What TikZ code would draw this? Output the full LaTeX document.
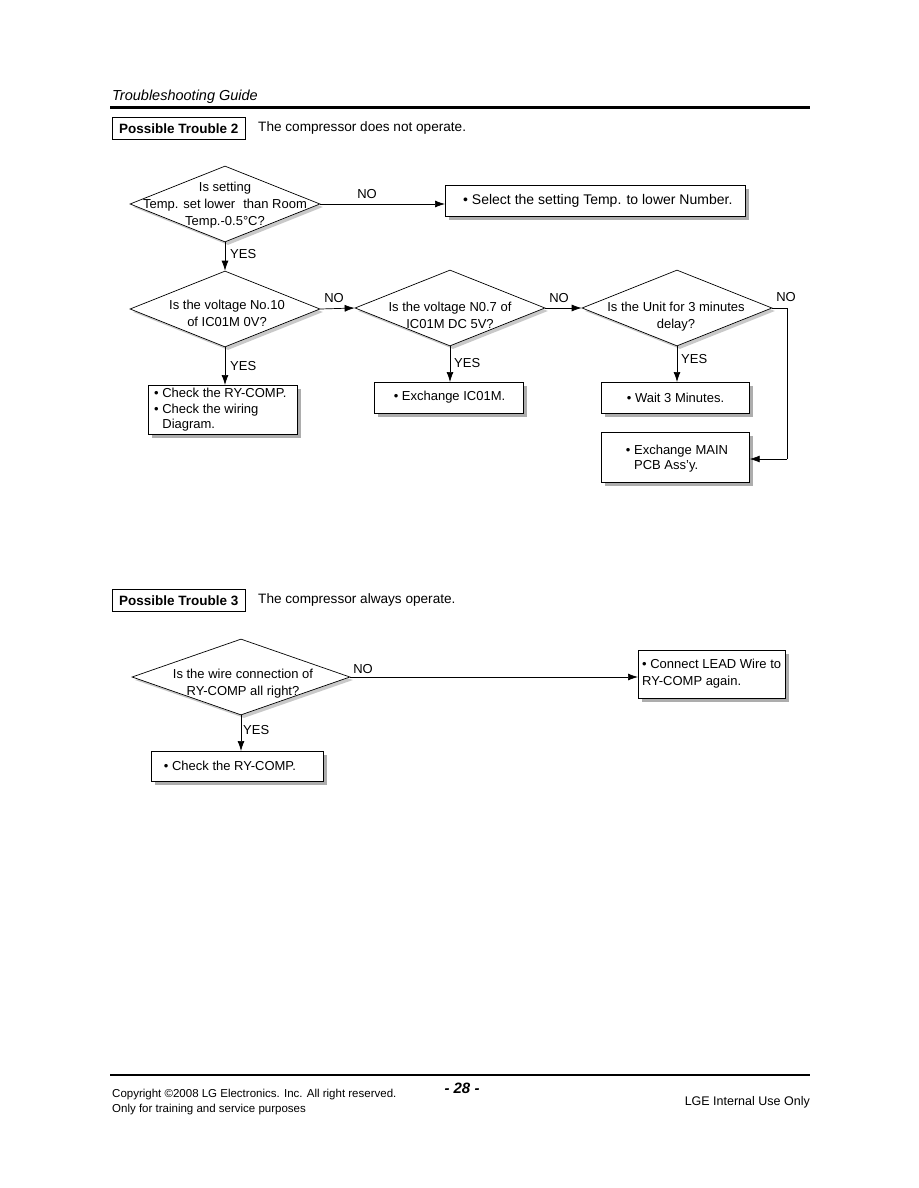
\documentclass[tikz,border=0pt]{standalone}
\usepackage{fontspec}
\setmainfont{Liberation Sans}
\usetikzlibrary{shapes.geometric,shadows,arrows.meta}
\begin{document}
\begin{tikzpicture}[x=1pt,y=-1pt,
  every node/.style={inner sep=0pt, font=\fontsize{13}{16.5}\selectfont},
  dia/.style={diamond, draw, line width=0.7pt, fill=white,
    drop shadow={shadow xshift=3pt, shadow yshift=-3pt, fill=black!30, opacity=0.7}},
  box/.style={rectangle, draw, line width=0.7pt, fill=white,
    drop shadow={shadow xshift=4pt, shadow yshift=-4pt, fill=black!40, opacity=0.8}},
  dtext/.style={align=center, font=\fontsize{13}{17}\selectfont},
  btext/.style={align=left, font=\fontsize{13}{15.5}\selectfont},
  arr/.style={line width=0.7pt, -{Latex[length=10pt,width=7pt]}},
  lbl/.style={font=\fontsize{13}{15}\selectfont}]
\useasboundingbox (0,0) rectangle (918,1188);

% header
\node[anchor=base west, font=\itshape\fontsize{14.5}{16}\selectfont] (hdr) at (112,101) {Troubleshooting Guide};
\coordinate (hl) at (110,108);
\coordinate (hr) at (810,108);
\draw[line width=3pt] (hl) -- (hr);

% trouble 2 title
\node[draw, line width=0.7pt, anchor=north west, minimum width=133pt, minimum height=22pt,
  font=\bfseries\fontsize{13.5}{16}\selectfont] (t2) at (112,117) {Possible Trouble 2};
\node[anchor=west, font=\fontsize{13.6}{16}\selectfont] (t2d) at (258,128) {The compressor does not operate.};

% diamonds
\node[dia, minimum width=190pt, minimum height=76pt] (d1) at (225,204) {};
\node[dtext] (d1t) at (225,205) {Is setting\\Temp. set lower\hspace{8pt}than Room\\Temp.-0.5\textdegree C?};

\node[dia, minimum width=190pt, minimum height=76pt] (d2) at (225,309) {};
\node[dtext] (d2t) at (227,313) {Is the voltage No.10\\of IC01M 0V?};

\node[dia, minimum width=190pt, minimum height=76pt] (d3) at (450,308) {};
\node[dtext] (d3t) at (450,315) {Is the voltage N0.7 of\\IC01M DC 5V?};

\node[dia, minimum width=190pt, minimum height=76pt] (d4) at (677,308) {};
\node[dtext] (d4t) at (676,317) {Is the Unit for 3 minutes\\delay?};

% boxes
\node[box, anchor=north west, minimum width=300pt, minimum height=31pt] (b1) at (445,185) {};
\node[btext, anchor=west, font=\fontsize{14}{16}\selectfont] (b1t) at (463,201) {\textbullet\ Select the setting Temp. to lower Number.};

\node[box, anchor=north west, minimum width=149pt, minimum height=49pt] (b2) at (148,385) {};
\node[btext, anchor=north west] (b2t) at (154,388) {\textbullet\ Check the RY-COMP.\\\textbullet\ Check the wiring\\\phantom{\textbullet\ }Diagram.};

\node[box, anchor=north west, minimum width=149pt, minimum height=31pt] (b3) at (374,382) {};
\node[btext] (b3t) at (449.5,397.5) {\textbullet\ Exchange IC01M.};

\node[box, anchor=north west, minimum width=148pt, minimum height=31pt] (b4) at (601,382) {};
\node[btext] (b4t) at (675.5,398) {\textbullet\ Wait 3 Minutes.};

\node[box, anchor=north west, minimum width=148pt, minimum height=50pt] (b5) at (601,432) {};
\node[btext] (b5t) at (677,458.5) {\textbullet\ Exchange MAIN\\\phantom{\textbullet\ }PCB Ass'y.};

% connectors trouble 2
\draw[arr] (d1.east) -- (b1.west |- d1.east);
\node[lbl] (n1) at (367,194) {NO};
\draw[arr] (d1.south) -- (d2.north);
\node[lbl, anchor=west] (y1) at (230,254) {YES};

\draw[arr] (d2.east) -- (d3.west);
\node[lbl] (n2) at (334,298) {NO};
\draw[arr] (d3.east) -- (d4.west);
\node[lbl] (n3) at (559,298) {NO};

\coordinate (c4a) at (787,308);
\coordinate (c4b) at (787,459);
\draw[line width=0.7pt] (d4.east) -- (c4a) -- (c4b);
\draw[arr] (c4b) -- (b5.east |- c4b);
\node[lbl] (n4) at (786,297) {NO};

\draw[arr] (d2.south) -- (b2.north -| d2.south);
\node[lbl, anchor=west] (y2) at (230,366) {YES};
\draw[arr] (d3.south) -- (b3.north -| d3.south);
\node[lbl, anchor=west] (y3) at (454,363) {YES};
\draw[arr] (d4.south) -- (b4.north -| d4.south);
\node[lbl, anchor=west] (y4) at (681,359) {YES};

% trouble 3 title
\node[draw, line width=0.7pt, anchor=north west, minimum width=133pt, minimum height=22pt,
  font=\bfseries\fontsize{13.5}{16}\selectfont] (t3) at (112,589) {Possible Trouble 3};
\node[anchor=west, font=\fontsize{13.6}{16}\selectfont] (t3d) at (258,600) {The compressor always operate.};

\node[dia, minimum width=218pt, minimum height=76pt] (d6) at (241,677) {};
\node[dtext] (d6t) at (243,684) {Is the wire connection of\\RY-COMP all right?};

\node[box, anchor=north west, minimum width=147pt, minimum height=48pt] (b6) at (638,650) {};
\node[btext, anchor=west, font=\fontsize{13}{17}\selectfont] (b6t) at (642,674) {\textbullet\ Connect LEAD Wire to\\RY-COMP again.};

\node[box, anchor=north west, minimum width=172pt, minimum height=30pt] (b7) at (151,751) {};
\node[btext] (b7t) at (230,766) {\textbullet\ Check the RY-COMP.};

\draw[arr] (d6.east) -- (b6.west |- d6.east);
\node[lbl] (n6) at (363,669) {NO};
\draw[arr] (d6.south) -- (b7.north -| d6.south);
\node[lbl, anchor=west] (y6) at (243,730) {YES};

% footer
\coordinate (fl) at (110,1075);
\coordinate (fr) at (810,1075);
\draw[line width=1.6pt] (fl) -- (fr);
\node[anchor=base west, align=left, font=\fontsize{11.5}{15}\selectfont] (f1) at (112,1097) {Copyright \textcopyright2008 LG Electronics. Inc. All right reserved.};
\node[anchor=base west, font=\fontsize{11.5}{15}\selectfont] (f2) at (112,1112) {Only for training and service purposes};
\node[font=\bfseries\itshape\fontsize{15}{17}\selectfont] (pg) at (462,1088) {- 28 -};
\node[anchor=base east, font=\fontsize{12.5}{15}\selectfont] (f3) at (810,1105) {LGE Internal Use Only};
\end{tikzpicture}
\end{document}
